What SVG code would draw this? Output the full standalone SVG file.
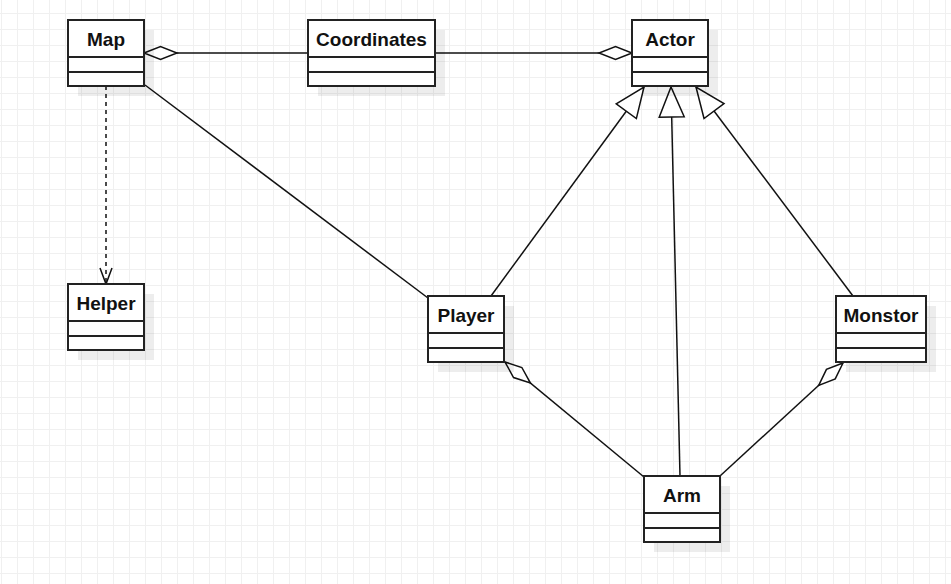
<svg xmlns="http://www.w3.org/2000/svg" width="951" height="584" viewBox="0 0 951 584">
<style>
.box{fill:#fff;stroke:#222;stroke-width:2}
.sep{stroke:#222;stroke-width:2}
.shadow{fill:#000;opacity:0.07}
.lbl{font-family:"Liberation Sans",Arial,sans-serif;font-weight:bold;font-size:19px;fill:#111;text-anchor:middle}
.edge{fill:none;stroke:#111;stroke-width:1.5}
.dash{stroke-dasharray:4 4}
</style>
<defs>
<pattern id="grid" patternUnits="userSpaceOnUse" x="1" y="13" width="16" height="16">
<path d="M0 0.5H16M0.5 0V16" fill="none" stroke="#f0f0f0" stroke-width="1"/>
</pattern>
<marker id="tri" markerUnits="userSpaceOnUse" viewBox="-1 -1 33 28" markerWidth="33" markerHeight="28" refX="30" refY="12.5" orient="auto" overflow="visible">
<path d="M0,0 L30,12.5 L0,25 Z" fill="#fff" stroke="#111" stroke-width="1.5"/>
</marker>
<marker id="dia" markerUnits="userSpaceOnUse" viewBox="-1 -1 36 15" markerWidth="36" markerHeight="15" refX="0" refY="6.5" orient="auto" overflow="visible">
<path d="M0,6.5 L16.5,0 L33,6.5 L16.5,13 Z" fill="#fff" stroke="#111" stroke-width="1.5"/>
</marker>
<marker id="open" markerUnits="userSpaceOnUse" viewBox="-1 -1 18 14" markerWidth="18" markerHeight="14" refX="16" refY="6" orient="auto" overflow="visible">
<path d="M0,0 L16,6 L0,12" fill="none" stroke="#111" stroke-width="1.5" stroke-dasharray="none"/>
</marker>
</defs>
<rect width="951" height="584" fill="#fff"/>
<rect width="951" height="584" fill="url(#grid)"/>

<g id="connectors">
<path class="edge" d="M144,53 L308,53" marker-start="url(#dia)"/>
<path class="edge" d="M632,53 L435,53" marker-start="url(#dia)"/>
<path class="edge dash" d="M106,86 L106,284" marker-end="url(#open)"/>
<path class="edge" d="M145,85 L428,298"/>
<path class="edge" d="M491,296 L644,87" marker-end="url(#tri)"/>
<path class="edge" d="M680,476 L671,87" marker-end="url(#tri)"/>
<path class="edge" d="M853,296 L696,87" marker-end="url(#tri)"/>
<path class="edge" d="M505,362 L644,477" marker-start="url(#dia)"/>
<path class="edge" d="M843,363 L720,476" marker-start="url(#dia)"/>
</g>

<g id="Map">
<rect class="shadow" x="78" y="30" width="76" height="66"/>
<rect class="box" x="68" y="20" width="76" height="66"/>
<path class="sep" d="M68,57H144M68,72H144"/>
<text class="lbl" x="106" y="46">Map</text>
</g>
<g id="Coordinates">
<rect class="shadow" x="318" y="30" width="127" height="66"/>
<rect class="box" x="308" y="20" width="127" height="66"/>
<path class="sep" d="M308,57H435M308,72H435"/>
<text class="lbl" x="371.5" y="46">Coordinates</text>
</g>
<g id="Actor">
<rect class="shadow" x="642" y="30" width="76" height="66"/>
<rect class="box" x="632" y="20" width="76" height="66"/>
<path class="sep" d="M632,57H708M632,72H708"/>
<text class="lbl" x="670" y="46">Actor</text>
</g>
<g id="Helper">
<rect class="shadow" x="78" y="294" width="76" height="66"/>
<rect class="box" x="68" y="284" width="76" height="66"/>
<path class="sep" d="M68,321H144M68,336H144"/>
<text class="lbl" x="106" y="310">Helper</text>
</g>
<g id="Player">
<rect class="shadow" x="438" y="306" width="76" height="66"/>
<rect class="box" x="428" y="296" width="76" height="66"/>
<path class="sep" d="M428,333H504M428,348H504"/>
<text class="lbl" x="466" y="322">Player</text>
</g>
<g id="Monstor">
<rect class="shadow" x="846" y="306" width="90" height="66"/>
<rect class="box" x="836" y="296" width="90" height="66"/>
<path class="sep" d="M836,333H926M836,348H926"/>
<text class="lbl" x="881" y="322">Monstor</text>
</g>
<g id="Arm">
<rect class="shadow" x="654" y="486" width="76" height="66"/>
<rect class="box" x="644" y="476" width="76" height="66"/>
<path class="sep" d="M644,513H720M644,528H720"/>
<text class="lbl" x="682" y="502">Arm</text>
</g>
</svg>
